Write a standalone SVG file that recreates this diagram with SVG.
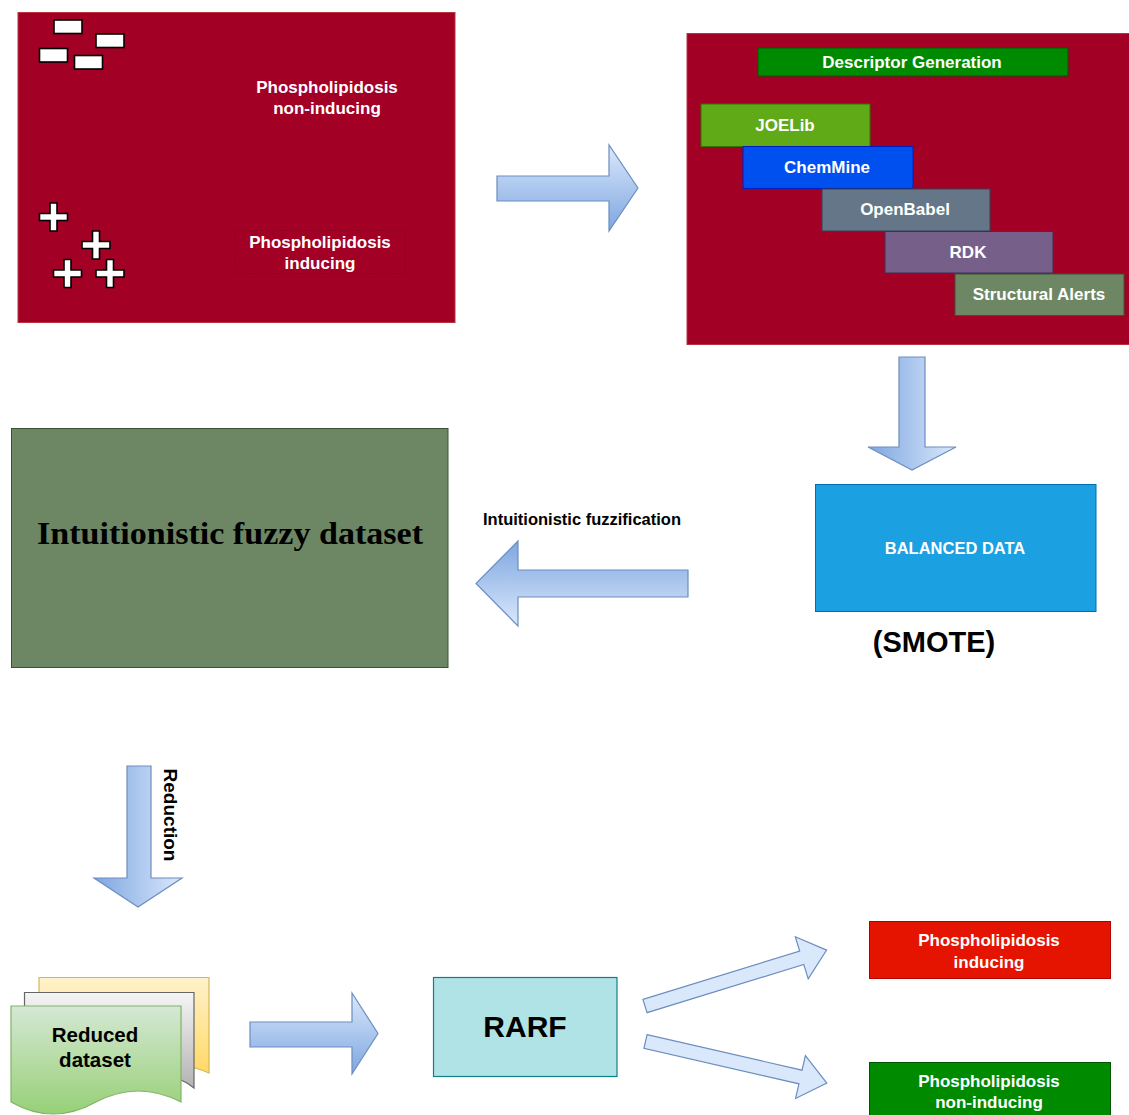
<svg xmlns="http://www.w3.org/2000/svg" width="1129" height="1115" viewBox="0 0 1129 1115">
<defs>
  <linearGradient id="gS" x1="0" y1="0" x2="0" y2="1"><stop offset="0" stop-color="#dae8fc"/><stop offset="1" stop-color="#7ea6e0"/></linearGradient>
  <linearGradient id="gW" x1="1" y1="0" x2="0" y2="0"><stop offset="0" stop-color="#dae8fc"/><stop offset="1" stop-color="#7ea6e0"/></linearGradient>
  <linearGradient id="gN" x1="0" y1="1" x2="0" y2="0"><stop offset="0" stop-color="#dae8fc"/><stop offset="1" stop-color="#7ea6e0"/></linearGradient>
  <linearGradient id="gY" x1="0" y1="0" x2="0" y2="1"><stop offset="0" stop-color="#fff2cc"/><stop offset="1" stop-color="#ffd966"/></linearGradient>
  <linearGradient id="gG" x1="0" y1="0" x2="0" y2="1"><stop offset="0" stop-color="#f5f5f5"/><stop offset="1" stop-color="#b3b3b3"/></linearGradient>
  <linearGradient id="gR" x1="0" y1="0" x2="0" y2="1"><stop offset="0" stop-color="#d5e8d4"/><stop offset="1" stop-color="#97d077"/></linearGradient>
</defs>
<style>
  text { font-family: "Liberation Sans", Arial, sans-serif; font-weight: bold; text-anchor: middle; }
  .w { fill: #ffffff; font-size: 17px; }
  .k { fill: #000000; }
  .arr { stroke: #6c8ebf; stroke-width: 1.2; }
  .mark { fill: #ffffff; stroke: #000000; stroke-width: 1.6; }
</style>
<rect width="1129" height="1115" fill="#ffffff"/>

<g id="input-dataset">
  <rect x="18" y="12.5" width="437" height="310" fill="#a20025" stroke="#b8333f" stroke-width="1"/>
  <rect class="mark" x="54" y="20" width="28" height="13.5"/>
  <rect class="mark" x="96" y="34" width="28" height="13.5"/>
  <rect class="mark" x="39.5" y="48.5" width="28" height="13.5"/>
  <rect class="mark" x="74.5" y="55.5" width="28" height="13.5"/>
  <path class="mark" d="M50,203 h7 v10.5 h10.5 v7 h-10.5 v10.5 h-7 v-10.5 h-10.5 v-7 h10.5 z"/>
  <path class="mark" d="M92.5,231 h7 v10.5 h10.5 v7 h-10.5 v10.5 h-7 v-10.5 h-10.5 v-7 h10.5 z"/>
  <path class="mark" d="M64,259.5 h7 v10.5 h10.5 v7 h-10.5 v10.5 h-7 v-10.5 h-10.5 v-7 h10.5 z"/>
  <path class="mark" d="M106.5,259.5 h7 v10.5 h10.5 v7 h-10.5 v10.5 h-7 v-10.5 h-10.5 v-7 h10.5 z"/>
  <text class="w" x="327" y="93">Phospholipidosis</text>
  <text class="w" x="327" y="114">non-inducing</text>
  <rect x="235.5" y="230.5" width="170" height="43" fill="none" stroke="#6a0018" stroke-width="1" stroke-dasharray="1,2" opacity="0.6"/>
  <text class="w" x="320" y="248">Phospholipidosis</text>
  <text class="w" x="320" y="269">inducing</text>
</g>

<g id="descriptor-generation">
  <rect x="687" y="33.5" width="445" height="311" fill="#a20025" stroke="#b8333f" stroke-width="1"/>
  <rect x="758" y="48" width="310" height="28" fill="#008a00" stroke="#005700" stroke-width="1"/>
  <text class="w" x="912" y="68">Descriptor Generation</text>
  <g id="joelib"><rect x="701" y="104" width="169" height="42.5" fill="#60a917" stroke="#2d7600" stroke-width="1"/><text class="w" x="785" y="131">JOELib</text></g>
  <g id="chemmine"><rect x="743" y="146.5" width="170" height="42" fill="#0050ef" stroke="#001dbc" stroke-width="1"/><text class="w" x="827" y="173">ChemMine</text></g>
  <g id="openbabel"><rect x="822" y="189" width="168" height="42" fill="#647687" stroke="#314354" stroke-width="1"/><text class="w" x="905" y="215">OpenBabel</text></g>
  <g id="rdk"><rect x="885" y="231.5" width="168" height="41.5" fill="#76608a" stroke="#432d57" stroke-width="1"/><text class="w" x="968" y="258">RDK</text></g>
  <g id="structural-alerts"><rect x="955" y="274" width="169" height="41.5" fill="#6d8764" stroke="#3a5431" stroke-width="1"/><text class="w" x="1039" y="300">Structural Alerts</text></g>
</g>

<g id="balanced-data">
  <rect x="815.5" y="484.5" width="280.5" height="127" fill="#1ba1e2" stroke="#006eaf" stroke-width="1"/>
  <text class="w" x="955" y="554" style="font-size:16.5px">BALANCED DATA</text>
  <text class="k" x="934" y="652" style="font-size:29px">(SMOTE)</text>
</g>

<g id="fuzzy-dataset">
  <rect x="11.5" y="428.5" width="436.5" height="239" fill="#6d8764" stroke="#3a5431" stroke-width="1"/>
  <text class="k" x="230" y="544" textLength="386" lengthAdjust="spacingAndGlyphs" style="font-family:'Liberation Serif','Times New Roman',serif;font-size:31px">Intuitionistic fuzzy dataset</text>
</g>

<g id="reduced-dataset">
  <path d="M39,977.5 H209 V1073 Q202,1070 195,1068 H39 Z" fill="url(#gY)" stroke="#d6b656" stroke-width="1.2"/>
  <path d="M24.5,992.5 H194 V1088 Q188,1083 181,1080 H24.5 Z" fill="url(#gG)" stroke="#666666" stroke-width="1.2"/>
  <path d="M11,1006 H181 V1102 Q138,1080 96,1102 Q53,1126 11,1102 Z" fill="url(#gR)" stroke="#82b366" stroke-width="1.2"/>
  <text class="k" x="95" y="1042" style="font-size:20.5px">Reduced</text>
  <text class="k" x="95" y="1067" style="font-size:20.5px">dataset</text>
</g>

<g id="rarf">
  <rect x="433.5" y="977.5" width="183.5" height="99" fill="#b0e3e6" stroke="#0e8088" stroke-width="1.2"/>
  <text class="k" x="525" y="1037" style="font-size:30px">RARF</text>
</g>

<g id="out-inducing">
  <rect x="869.5" y="921.5" width="241" height="57" fill="#e51400" stroke="#b20000" stroke-width="1"/>
  <text class="w" x="989" y="946">Phospholipidosis</text>
  <text class="w" x="989" y="968">inducing</text>
</g>

<g id="out-non-inducing">
  <rect x="869.5" y="1062.5" width="241" height="60" fill="#008a00" stroke="#005700" stroke-width="1"/>
  <text class="w" x="989" y="1087">Phospholipidosis</text>
  <text class="w" x="989" y="1108">non-inducing</text>
</g>

<g id="connectors">
  <polygon class="arr" fill="url(#gS)" points="497,176 609,176 609,145 638,188 609,231 609,201 497,201"/>
  <polygon class="arr" fill="url(#gW)" points="899,357 925,357 925,447 956,447 912,470 868,447 899,447"/>
  <polygon class="arr" fill="url(#gN)" points="688,570 518,570 518,541 476,583.5 518,626 518,597 688,597"/>
  <text class="k" x="582" y="525" style="font-size:16.5px">Intuitionistic fuzzification</text>
  <polygon class="arr" fill="url(#gW)" points="127,766 151,766 151,878 182,878 138,907 94,878 127,878"/>
  <text class="k" transform="translate(164,815) rotate(90)" style="font-size:19px">Reduction</text>
  <polygon class="arr" fill="url(#gS)" points="250,1022 352,1022 352,993 378,1033.5 352,1074 352,1047 250,1047"/>
  <polygon class="arr" fill="#dae8fc" transform="translate(645,1006) rotate(-17.1)" points="0,-7 164,-7 164,-22 190,0 164,22 164,7 0,7"/>
  <polygon class="arr" fill="#dae8fc" transform="translate(645.5,1041.5) rotate(12.9)" points="0,-7 159,-7 159,-22 186,0 159,22 159,7 0,7"/>
</g>
</svg>
